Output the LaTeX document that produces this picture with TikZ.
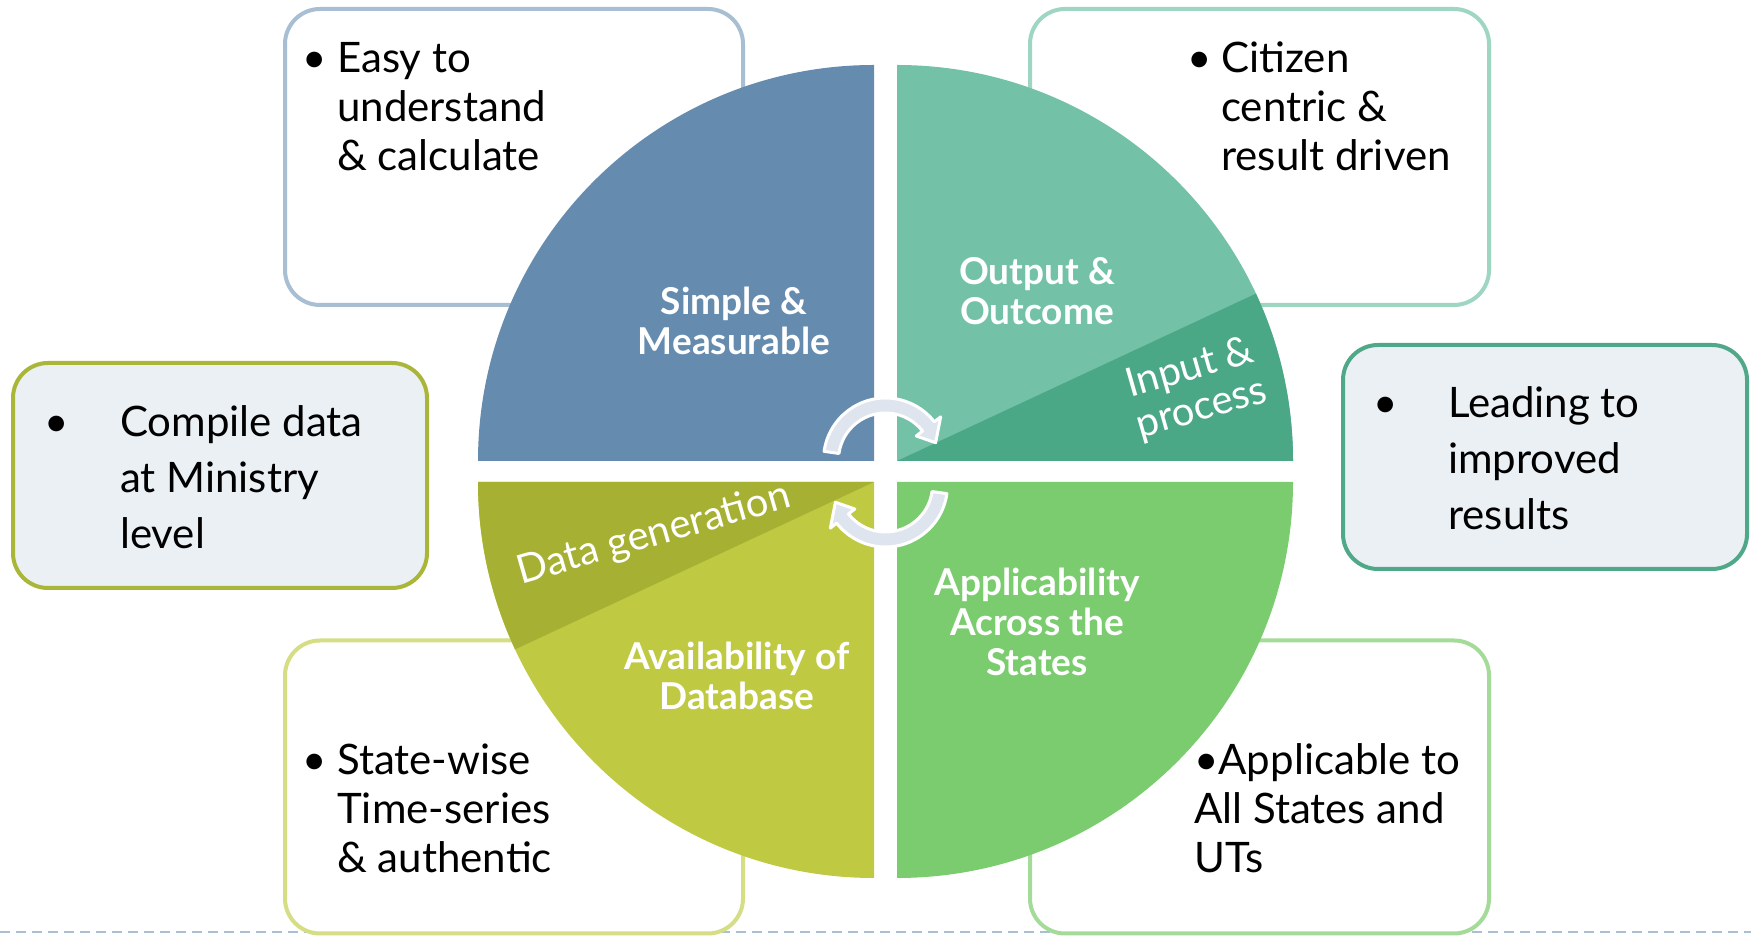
\documentclass[tikz,border=0pt]{standalone}
\usepackage{fontspec}
\setmainfont{Lato}
\definecolor{qblue}{HTML}{658BAF}
\definecolor{qteal}{HTML}{73C2A8}
\definecolor{qtealdk}{HTML}{4AA886}
\definecolor{qolive}{HTML}{BFCA42}
\definecolor{qolivedk}{HTML}{A6B033}
\definecolor{qgreen}{HTML}{7ACC6E}
\definecolor{bblue}{HTML}{A7BED3}
\definecolor{bteal}{HTML}{9ED6C2}
\definecolor{bolive}{HTML}{A9B637}
\definecolor{btealdk}{HTML}{4FA888}
\definecolor{bolivelt}{HTML}{D5DD85}
\definecolor{bgreenlt}{HTML}{A5DB98}
\definecolor{boxfill}{HTML}{EBF0F5}
\definecolor{arrowfill}{HTML}{DFE5EE}
\definecolor{dashcol}{HTML}{A9BFD4}
\begin{document}
\begin{tikzpicture}[x=1pt,y=1pt]
\tikzset{
  card/.style={rectangle, rounded corners=35pt, line width=4pt, fill=white, inner sep=0pt},
  boxtxt/.style={font=\fontsize{42}{49}\selectfont, align=left, anchor=base west, inner sep=0pt, text=black},
  boxtxtw/.style={font=\fontsize{42}{56}\selectfont, align=left, anchor=base west, inner sep=0pt, text=black},
  bul/.style={font=\fontsize{42}{49}\selectfont, anchor=base, inner sep=0pt, text=black},
  qlab/.style={font=\bfseries\fontsize{37}{40}\selectfont, text=white, align=center, inner sep=0pt},
  rlab/.style={font=\fontsize{40}{42}\selectfont, text=white, align=center, inner sep=0pt, rotate=16},
  cyc/.style={fill=arrowfill, draw=white, line width=3pt, line join=round},
  dashline/.style={draw=dashcol, line width=2.5pt, dash pattern=on 10pt off 6pt}
}
\fill[white] (0,0) rectangle (1751,936);
\useasboundingbox (0,0) rectangle (1751,936);

% dashed footer line
\coordinate (dl) at (0,4);
\coordinate (dr) at (1751,4);
\draw[dashline] (dl) -- (dr);

% outer cards
\node[card, draw=bblue, minimum width=458pt, minimum height=296pt] (tl) at (514,779) {};
\node[card, draw=bteal, minimum width=459pt, minimum height=296pt] (tr) at (1259.5,779) {};
\node[card, draw=bolivelt, minimum width=458pt, minimum height=293pt] (bl) at (514,149) {};
\node[card, draw=bgreenlt, minimum width=459pt, minimum height=293pt] (br) at (1259.5,149) {};
\node[card, draw=bolive, fill=boxfill, minimum width=414pt, minimum height=225pt] (lf) at (220,460.5) {};
\node[card, draw=btealdk, fill=boxfill, minimum width=404pt, minimum height=224pt] (rt) at (1545,479) {};

% quadrants
\fill[qblue] (874,475) -- (478,475) arc[start angle=180, end angle=90, radius=396] -- cycle;
\fill[qteal] (897,475) -- (1293,475) arc[start angle=0, end angle=90, radius=396] -- cycle;
\fill[qtealdk] (897,475) -- (1293,475) arc[start angle=0, end angle=25, radius=396] -- cycle;
\fill[qolive] (874,454) -- (478,454) arc[start angle=180, end angle=270, radius=396] -- cycle;
\fill[qolivedk] (874,454) -- (478,454) arc[start angle=180, end angle=205, radius=396] -- cycle;
\fill[qgreen] (897,454) -- (897,58) arc[start angle=270, end angle=360, radius=396] -- cycle;

% circular arrows
\draw[cyc, shift={(885.5,476)}] (172:62) arc[start angle=172, end angle=38, radius=62]
  -- (38:70) -- (19:53) -- (38:39) -- (38:47) arc[start angle=38, end angle=172, radius=47] -- cycle;
\draw[cyc, shift={(885.5,451)}] (-8:62) arc[start angle=-8, end angle=-142, radius=62]
  -- (-142:70) -- (-161:53) -- (-142:39) -- (-142:47) arc[start angle=-142, end angle=-8, radius=47] -- cycle;

% quadrant labels
\node[qlab] (qs) at (734,615) {Simple \&\\Measurable};
\node[qlab] (qo) at (1037,645) {Output \&\\Outcome};
\node[qlab] (qa) at (737,260) {Availability of\\Database};
\node[qlab] (qp) at (1037,314) {Applicability\\Across the\\States};
\node[rlab] (qi) at (1196,547) {Input \&\\process};
\node[rlab] (qd) at (654,401) {Data generation};

% card texts (anchored at the baseline of the last line)
\node[bul] (tlb) at (315,863) {•};
\node[boxtxt] (tlt) at (337,765) {Easy to\\understand\\\& calculate};
\node[bul] (trb) at (1200,863) {•};
\node[boxtxt] (trt) at (1221,765) {Citizen\\centric \&\\result driven};
\node[bul] (blb) at (315,161) {•};
\node[boxtxt] (blt) at (337,63) {State-wise\\Time-series\\\& authentic};
\node[boxtxt] (brt) at (1194,63) {•Applicable to\\All States and\\UTs};
\node[bul] (lfb) at (57,499) {•};
\node[boxtxtw] (lft) at (120,387) {Compile data\\at Ministry\\level};
\node[bul] (rtb) at (1386,518) {•};
\node[boxtxtw] (rtt) at (1448,406) {Leading to\\improved\\results};
\end{tikzpicture}
\end{document}
